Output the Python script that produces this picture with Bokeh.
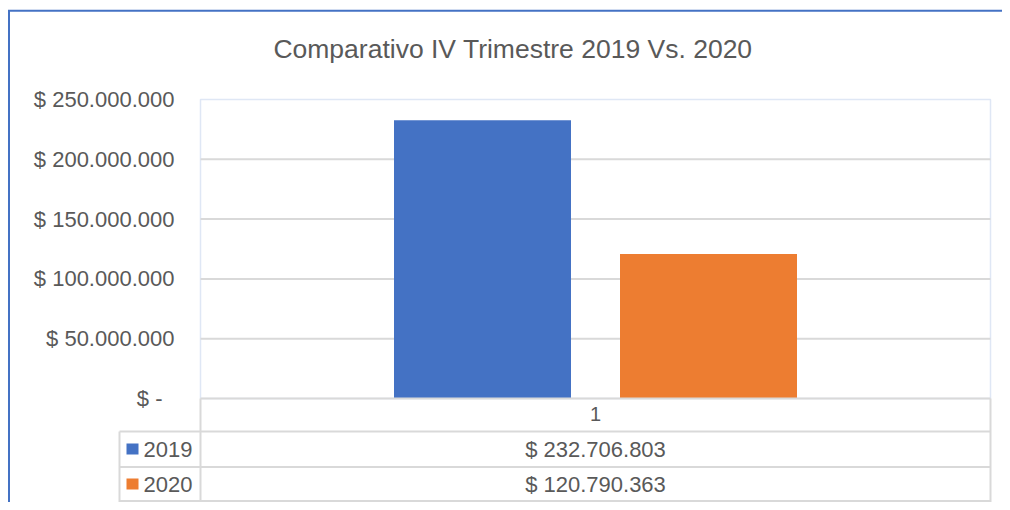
from bokeh.plotting import figure
from bokeh.models import Range1d, ColumnDataSource
from bokeh.core.properties import value
from bokeh.embed import file_html
from bokeh.resources import INLINE

# ---- data ----
categories = ["1"]
series_names = ["2019", "2020"]
values_2019 = [232706803]
values_2020 = [120790363]
y_ticks = [0, 50000000, 100000000, 150000000, 200000000, 250000000]
title_text = "Comparativo IV Trimestre 2019 Vs. 2020"

# ---- styles ----
BLUE = "#4472C4"
ORANGE = "#ED7D31"
TEXT = "#595959"
GRID = "#d9d9d9"
FONT = value("Liberation Sans")
series_colors = [BLUE, ORANGE]
series_values = [values_2019, values_2020]

def money(v):
    if v == 0:
        return "$ -"
    return "$ " + f"{int(v):,}".replace(",", ".")

n = len(categories)
# layout helpers: pixel -> data units (layout only)
PX_L, PX_R = 200.0, 990.0     # plot-area left/right
PY_0, PX_PER_50M = 398.0, 59.8
def X(px):
    return (px - PX_L) / (PX_R - PX_L) * n
def Y(py):
    return (PY_0 - py) * 50000000 / PX_PER_50M

W, H = 1002, 502
p = figure(width=W, height=H, output_backend="svg", toolbar_location=None,
           x_range=Range1d(X(0), X(W)), y_range=Range1d(Y(H), Y(0)),
           x_axis_location=None, y_axis_location=None, min_border=0,
           outline_line_color=None, background_fill_color="white")
p.grid.visible = False

# chart border (left / top)
p.segment(x0=[X(8.5), X(7.5)], y0=[Y(10.3), Y(10.3)], x1=[X(8.5), X(W + 10)], y1=[Y(H + 10), Y(10.3)],
          line_color=BLUE, line_width=2)

# plot-area faint border
p.quad(left=[0], right=[n], bottom=[0], top=[y_ticks[-1]], fill_color=None,
       line_color="#dfe7f5", line_width=1.5)

# gridlines
gl = [t for t in y_ticks if 0 < t < y_ticks[-1]]
p.segment(x0=[0] * len(gl), y0=gl, x1=[n] * len(gl), y1=gl, line_color=GRID, line_width=2)

# y tick labels
tick_src = ColumnDataSource(dict(
    x=[X(174)] * len(y_ticks), y=y_ticks, t=[money(v) for v in y_ticks],
    xo=[-12 if v == 0 else 0 for v in y_ticks]))
p.text(x="x", y="y", text="t", x_offset="xo", source=tick_src, text_align="right",
       text_baseline="middle", text_font=FONT, text_font_size="22px", text_color=TEXT)

# bars
bar_w = 177 / (PX_R - PX_L) * n
step = (177 + 49) / (PX_R - PX_L) * n
k = len(series_names)
for j, (vals, col) in enumerate(zip(series_values, series_colors)):
    off = (j - (k - 1) / 2) * step
    xs = [i + 0.5 + off for i in range(n)]
    p.vbar(x=xs, top=vals, bottom=0, width=bar_w, fill_color=col, line_color=None)

# data table
row_y = [398, 431, 466.5, 500.5]
p.segment(x0=[0, X(119), X(119), X(119)], y0=[Y(r) for r in row_y],
          x1=[n] * 4, y1=[Y(r) for r in row_y], line_color=GRID, line_width=2)
p.segment(x0=[0, X(119), n], y0=[Y(398), Y(431), Y(398)],
          x1=[0, X(119), n], y1=[Y(501.5)] * 3, line_color=GRID, line_width=2)

# category label row
p.text(x=[i + 0.5 for i in range(n)], y=[Y(413)] * n, text=categories,
       text_align="center", text_baseline="middle", text_font=FONT,
       text_font_size="20px", text_color=TEXT)

row_centers = [448.5, 483.5]
for j, name in enumerate(series_names):
    yc = Y(row_centers[j])
    p.rect(x=[X(132)], y=[yc], width=12, height=11, width_units="screen",
           height_units="screen", fill_color=series_colors[j], line_color=None)
    p.text(x=[X(143)], y=[yc], text=[name], text_align="left", text_baseline="middle",
           text_font=FONT, text_font_size="22px", text_color=TEXT)
    p.text(x=[i + 0.5 for i in range(n)], y=[yc] * n,
           text=[money(v) for v in series_values[j]], text_align="center",
           text_baseline="middle", text_font=FONT, text_font_size="22px", text_color=TEXT)

# title
p.text(x=[X(512.5)], y=[Y(48)], text=[title_text], text_align="center",
       text_baseline="middle", text_font=FONT, text_font_size="26.5px", text_color=TEXT)

open("out.html", "w").write(file_html(p, INLINE))
